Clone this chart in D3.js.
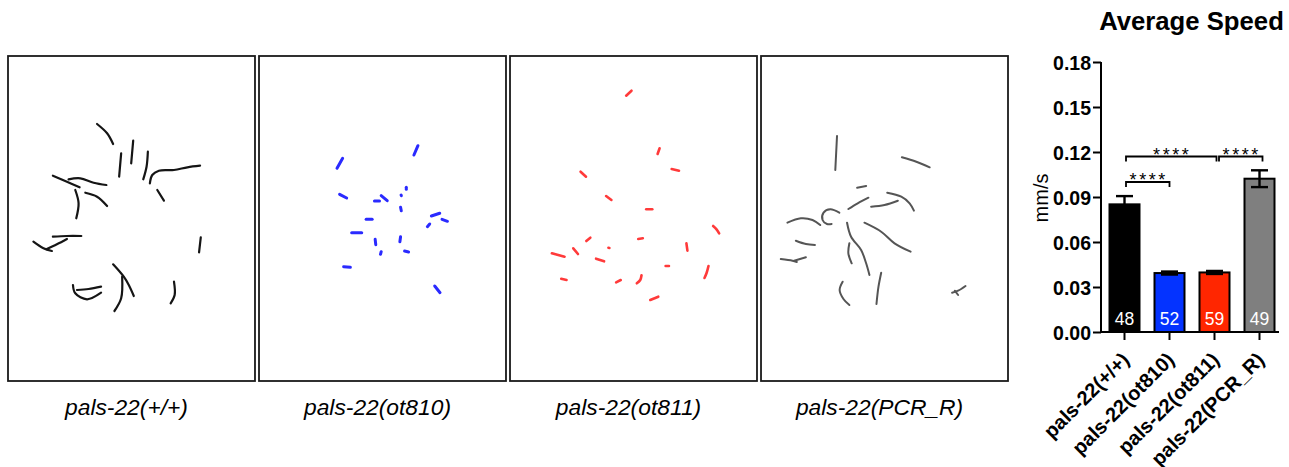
<!DOCTYPE html>
<html>
<head>
<meta charset="utf-8">
<script src="https://cdn.jsdelivr.net/npm/d3@7"></script>
<style>
  body { margin: 0; background: #fff; }
  svg { display: block; font-family: "Liberation Sans", Arial, sans-serif; }
</style>
</head>
<body>
<svg width="1289" height="467"></svg>
<script>
// ---- data ----
var genotypes = ["pals-22(+/+)", "pals-22(ot810)", "pals-22(ot811)", "pals-22(PCR_R)"];
var meanSpeed = [0.0851, 0.0393, 0.0397, 0.1022];
var semSpeed  = [0.0055, 0.0010, 0.0010, 0.0056];
var sampleN   = [48, 52, 59, 49];
var barColors = ["#000000", "#0433ff", "#ff2600", "#7f7f7f"];
var yTicks    = [0, 0.03, 0.06, 0.09, 0.12, 0.15, 0.18];

// significance brackets: [from bar, to bar, height in mm/s, label]
var comparisons = [
  [0, 1, 0.1000, "****"],
  [0, 2, 0.1170, "****"],
  [2, 3, 0.1170, "****"]
];

// worm tracks per panel, in panel pixel units (246 x 325)
var trackColors = ["#151515", "#2a2aff", "#ff3a3a", "#555555"];
var trackWidths = [2.2, 3, 2.6, 2];

var wildTypeTracks = [
  [[88.7,68],[98.7,77.3],[104.7,88]],
  [[124.7,84.7],[122.7,107.3]],
  [[112.7,97.3],[110.7,120.7]],
  [[139.3,95.7],[138,110.7],[134.7,123.3]],
  [[191.3,109.7],[178.7,111.3],[165.3,114],[150.3,114.7],[143.7,119],[141.3,127.3]],
  [[148.7,134],[155.3,144.7]],
  [[44.7,119.7],[58.7,125.7],[71.3,131.3]],
  [[60.3,123.3],[72,122.3],[85.3,126.7],[98,129]],
  [[67,134],[70.3,147.3],[68,162.3]],
  [[77,136.7],[88.7,140.7],[98.7,150]],
  [[44.7,180.7],[58.7,180],[73,180]],
  [[25.3,185.7],[35.3,192.3],[43.7,195]],
  [[38.7,193],[48.7,188.3],[58.7,183]],
  [[192,181.3],[190.3,196.3]],
  [[104.7,208.3],[115.3,220.7],[120.3,229],[125.3,240]],
  [[113.7,220.7],[112.7,242.3],[106,255]],
  [[64.7,229],[67,237.3],[78.7,243.3],[92.7,236.7]],
  [[68.7,234],[80.3,233],[92.7,230.7]],
  [[165.3,225.7],[166,239],[162,247.3]]
];

var ot810Tracks = [
  [[83.3,102.3],[77.7,112.3]],
  [[158.3,89.7],[154.3,99]],
  [[80.3,138.3],[87.3,142]],
  [[121.7,139.7],[127.7,144.7]],
  [[115,145],[120,145]],
  [[146.7,131.3],[146.7,133.3]],
  [[141.5,139],[141.8,139.6]],
  [[141,151.3],[141.7,154.7]],
  [[171.7,160],[180,157.3]],
  [[182.3,163.3],[187.7,165.3]],
  [[167.7,170.7],[170,168]],
  [[106.7,163.3],[112.7,163.3]],
  [[92.3,176.7],[102.3,176.7]],
  [[115.7,183.3],[116.3,188.7]],
  [[121.7,195.7],[121,198.3]],
  [[141,180.7],[140.3,185.7]],
  [[145,195],[149,196]],
  [[84.3,210.7],[91,211.3]],
  [[175,230],[180.3,236.7]]
];

var ot811Tracks = [
  [[115.7,39.7],[121,34.7]],
  [[149,92.3],[147,98]],
  [[161,113],[168.3,114.7]],
  [[70.3,115.7],[75.7,120.7]],
  [[95.7,140],[101,144]],
  [[135.7,153.3],[141.7,153.3]],
  [[202.3,170],[205.7,173.3],[208.3,177.3]],
  [[80,181.7],[76,185]],
  [[127.7,183],[132.3,182.3]],
  [[175.7,187.3],[176.7,194.7]],
  [[98,191.7],[99,191.9]],
  [[63,192.3],[67.7,198]],
  [[41.7,197.3],[54.3,200.7]],
  [[85.7,202.7],[93.7,205.3]],
  [[155,210],[158.3,210]],
  [[197.7,210],[195.7,217.3],[193.7,222]],
  [[51,222.7],[56.3,224]],
  [[105.7,226.3],[110.3,224]],
  [[131,219.3],[129.7,224],[126.3,227.3]],
  [[139.7,244],[147.7,240.7]]
];

var pcrTracks = [
  [[75.7,80],[74,114]],
  [[140.3,101.3],[154.7,105.7],[168,111.3]],
  [[95.7,131.7],[104.7,130]],
  [[87,153],[96.3,147.3],[107,141.7]],
  [[125.7,136.7],[139.7,140.7],[148,147.3],[152.3,154.7]],
  [[109.7,150.7],[123,149],[136.3,144.7]],
  [[26.3,166.7],[39.7,162.3],[51.3,164],[59,169]],
  [[78,156.7],[69,153.3],[62.3,156.7],[61.3,164],[65.7,168],[70.3,168]],
  [[85.7,166.7],[89.7,180.7],[99.7,194],[104.7,207.3],[108,219]],
  [[103,166.7],[119.7,175.7],[133,187.3],[149,195.7]],
  [[34.7,184.7],[44.7,188],[53.7,189]],
  [[19.7,203],[31.3,204.7],[35.7,206]],
  [[33,204.7],[44.7,201.3]],
  [[88,187.3],[87,197.3],[90.3,207.3]],
  [[119.7,216.7],[117,230.7],[115,248]],
  [[81.3,225.7],[78.3,234],[82.3,243.3],[88,249]],
  [[203.7,230],[196.3,234.7],[190.3,236.7]],
  [[193,234.7],[196.3,239]]
];

var panelTracks = [wildTypeTracks, ot810Tracks, ot811Tracks, pcrTracks];

// ---- setup ----
var svg = d3.select("svg");

// ---- track panels ----
var panelX = d3.scaleBand().domain(d3.range(4)).range([8, 1008]).paddingInner(0.016);
var panelTop = 56, panelH = 325;

panelTracks.forEach(function (tracks, i) {
  var x0 = panelX(i), w = panelX.bandwidth();
  var px = d3.scaleLinear().domain([0, 246]).range([x0, x0 + w]);
  var py = d3.scaleLinear().domain([0, 325]).range([panelTop, panelTop + panelH]);
  var line = d3.line()
    .x(function (d) { return px(d[0]); })
    .y(function (d) { return py(d[1]); })
    .curve(d3.curveCatmullRom);

  var g = svg.append("g").attr("class", "panel");

  g.selectAll("path")
    .data(tracks)
    .enter().append("path")
    .attr("d", line)
    .attr("fill", "none")
    .attr("stroke", trackColors[i])
    .attr("stroke-width", trackWidths[i])
    .attr("stroke-linecap", "round")
    .attr("stroke-linejoin", "round");

  g.append("rect")
    .attr("x", x0).attr("y", panelTop)
    .attr("width", w).attr("height", panelH)
    .attr("fill", "none")
    .attr("stroke", "#1a1a1a")
    .attr("stroke-width", 1.8);

  // genotype label under each panel (italic slant pulls it a bit left)
  g.append("text")
    .attr("x", x0 + w / 2 - 5)
    .attr("y", 415)
    .attr("text-anchor", "middle")
    .attr("font-style", "italic")
    .attr("font-size", 22.8)
    .text(genotypes[i]);
});

// ---- bar chart ----
var x = d3.scaleBand().domain(genotypes).range([1102, 1282])
  .paddingInner(1 / 3).paddingOuter(1 / 6);
var y = d3.scaleLinear().domain([0, 0.18]).range([332, 62]);

var chart = svg.append("g").attr("class", "chart");

chart.append("text")
  .attr("x", 1191.5).attr("y", 30)
  .attr("text-anchor", "middle")
  .attr("font-weight", "bold")
  .attr("font-size", 25.7)
  .text("Average Speed");

// bars
chart.selectAll("rect.bar")
  .data(genotypes)
  .enter().append("rect")
  .attr("class", "bar")
  .attr("x", function (d) { return x(d); })
  .attr("y", function (d, i) { return y(meanSpeed[i]); })
  .attr("width", x.bandwidth())
  .attr("height", function (d, i) { return y(0) - y(meanSpeed[i]); })
  .attr("fill", function (d, i) { return barColors[i]; })
  .attr("stroke", "#000")
  .attr("stroke-width", 2);

// error bars
var errs = chart.selectAll("g.err")
  .data(genotypes)
  .enter().append("g")
  .attr("class", "err")
  .attr("stroke", "#000")
  .attr("stroke-width", 2.4);
errs.append("line")
  .attr("x1", function (d) { return x(d) + x.bandwidth() / 2; })
  .attr("x2", function (d) { return x(d) + x.bandwidth() / 2; })
  .attr("y1", function (d, i) { return y(meanSpeed[i] - semSpeed[i]); })
  .attr("y2", function (d, i) { return y(meanSpeed[i] + semSpeed[i]); });
[-1, 1].forEach(function (s) {
  errs.append("line")
    .attr("x1", function (d) { return x(d) + x.bandwidth() / 2 - 8.5; })
    .attr("x2", function (d) { return x(d) + x.bandwidth() / 2 + 8.5; })
    .attr("y1", function (d, i) { return y(meanSpeed[i] + s * semSpeed[i]); })
    .attr("y2", function (d, i) { return y(meanSpeed[i] + s * semSpeed[i]); });
});

// n inside bars
chart.selectAll("text.n")
  .data(genotypes)
  .enter().append("text")
  .attr("class", "n")
  .attr("x", function (d) { return x(d) + x.bandwidth() / 2; })
  .attr("y", 325)
  .attr("text-anchor", "middle")
  .attr("font-size", 17.5)
  .attr("fill", "#fff")
  .text(function (d, i) { return sampleN[i]; });

// y axis
var yAxis = chart.append("g")
  .attr("transform", "translate(1101,0)")
  .call(d3.axisLeft(y).tickValues(yTicks).tickFormat(d3.format(".2f")).tickSize(8).tickPadding(2));
yAxis.select(".domain").attr("stroke-width", 2).attr("d", "M0,62V333");
yAxis.selectAll(".tick line").attr("stroke-width", 2);
yAxis.selectAll(".tick text")
  .attr("font-size", 19.5).attr("font-weight", "bold").attr("fill", "#000")
  .attr("font-family", "Liberation Sans, Arial, sans-serif")
  .attr("dy", "0.36em");

chart.append("text")
  .attr("transform", "translate(1048,198) rotate(-90)")
  .attr("text-anchor", "middle")
  .attr("font-size", 20)
  .text("mm/s");

// x axis
var xAxis = chart.append("g")
  .attr("transform", "translate(0,332)")
  .call(d3.axisBottom(x).tickSize(8).tickFormat(""));
xAxis.select(".domain").attr("stroke-width", 2).attr("d", "M1100,0H1279");
xAxis.selectAll(".tick line").attr("stroke-width", 2);

chart.selectAll("text.xl")
  .data(genotypes)
  .enter().append("text")
  .attr("class", "xl")
  .attr("transform", function (d) {
    return "translate(" + (x(d) + x.bandwidth() / 2 + 6) + ",361) rotate(-45)";
  })
  .attr("text-anchor", "end")
  .attr("font-size", 20)
  .attr("font-weight", "bold")
  .text(function (d) { return d; });

// significance brackets
var cx = function (i) { return x(genotypes[i]) + x.bandwidth() / 2; };
var ends = function (d, k) {
  if (k === 2) return [cx(d[0]) + 4.5, cx(d[1]) + 3];
  return [cx(d[0]) + 1.5, cx(d[1]) + (k === 1 ? 2 : 0)];
};
var br = chart.selectAll("g.sig")
  .data(comparisons)
  .enter().append("g")
  .attr("class", "sig");
br.append("path")
  .attr("fill", "none")
  .attr("stroke", "#000")
  .attr("stroke-width", 1.8)
  .attr("d", function (d, k) {
    var e = ends(d, k), yy = y(d[2]);
    return "M" + e[0] + "," + (yy + 5) + "V" + yy + "H" + e[1] + "V" + (yy + 5);
  });
br.append("text")
  .attr("x", function (d, k) { var e = ends(d, k); return (e[0] + e[1]) / 2 + 1; })
  .attr("y", function (d) { return y(d[2]) + 4; })
  .attr("text-anchor", "middle")
  .attr("font-size", 18)
  .attr("letter-spacing", 2.6)
  .text(function (d) { return d[3]; });
</script>
</body>
</html>
